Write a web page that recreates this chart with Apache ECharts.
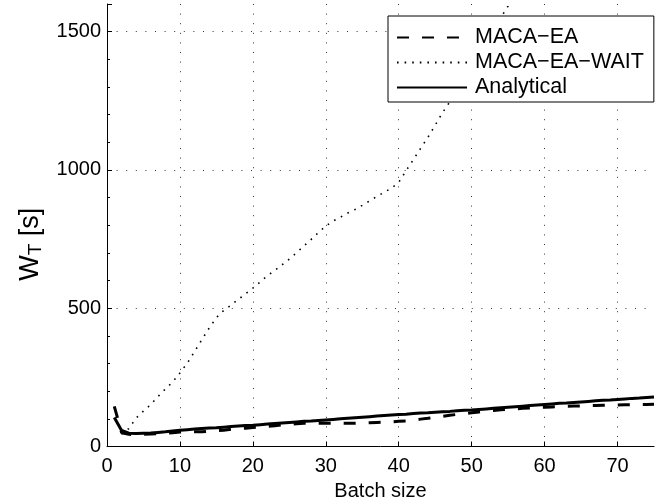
<!DOCTYPE html>
<html>
<head>
<meta charset="utf-8">
<script src="https://cdn.jsdelivr.net/npm/echarts@6/dist/echarts.min.js"></script>
<style>
  html, body { margin: 0; padding: 0; background: #fff; }
  #chart { width: 662px; height: 502px; }
</style>
</head>
<body>
<div id="chart"></div>
<script>
// Batch sizes used for the MACA-EA and analytical curves
const batchSize = [1,2,3,4,5,6,7,8,9,10,11,12,13,14,15,16,17,18,19,20,21,22,23,24,25,26,27,28,29,30,
  31,32,33,34,35,36,37,38,39,40,41,42,43,44,45,46,47,48,49,50,51,52,53,54,55,56,57,58,59,60,
  61,62,63,64,65,66,67,68,69,70,71,72,73,74,75];

// Mean waiting time W_T [s], simulated MACA-EA
const macaEA = [145,50,44,43,44,45,46,48,50,52,53,53,53,55,57,59,62,64,66,69,71,73,75,78,80,82,84,84,84,84,
  84,84,84,84,85,86,87,88,89,91,92,95,99,102,106,109,113,116,119,122,125,128,130,133,135,136,138,139,141,142,
  143,144,145,146,147,148,148,149,150,150,151,151,152,152,153];

// Analytical model
const analytical = [105,58,48,47,48,49,51,53,56,59,61,63,65,67,68,70,72,74,76,77,79,81,83,85,87,89,91,92,94,96,
  98,100,102,104,106,108,110,112,114,116,117,119,121,122,124,126,127,129,131,132,134,136,138,140,142,144,146,148,150,152,
  154,156,157,159,161,163,165,167,168,170,172,174,175,177,179];

// MACA-EA-WAIT (runs off the top of the plot past batch size 55)
const waitBatchSize = [2,3,4,5,6,7,8,9,10,11,12,13,14,15,16,17,18,19,20,21,22,23,24,25,26,27,28,29,30,
  31,32,33,34,35,36,37,38,39,40,41,42,43,44,45,46,47,48,49,50,51,52,53,54,55,56];
const macaEAWait = [45,65,103,128,152,181,208,233,266,301,343,386,428,466,492,511,532,552,573,595,618,636,657,678,701,725,749,774,797,
  815,829,844,857,872,888,904,919,934,955,997,1037,1078,1118,1162,1207,1246,1290,1333,1376,1419,1462,1506,1551,1593,1636];

const xTicks = [0,10,20,30,40,50,60,70];
const yTicks = [0,500,1000,1500];

const FONT = 'Liberation Sans, Arial, Helvetica, sans-serif';

function pairs(xs, ys) { return xs.map((x, i) => [x, ys[i]]); }

const chart = echarts.init(document.getElementById('chart'), null, { renderer: 'canvas' });

const gridLine = { show: true, showMinLine: false, showMaxLine: false,
  lineStyle: { color: '#333', width: 1, type: [1, 8.6] } };

chart.setOption({
  animation: false,
  backgroundColor: '#fff',
  textStyle: { fontFamily: FONT },
  grid: { left: 107, right: 8, top: 4, bottom: 55.5, containLabel: false, outerBoundsMode: 'none' },
  legend: {
    orient: 'vertical',
    left: 388, top: 16,
    itemWidth: 70, itemHeight: 14, itemGap: 0,
    padding: [9, 10, 2, 8],
    backgroundColor: '#fff',
    borderColor: '#000', borderWidth: 1, borderRadius: 0,
    itemStyle: { opacity: 0 },
    textStyle: { fontFamily: FONT, fontSize: 21.5, color: '#000', lineHeight: 25, padding: [0, 0, 0, 3] },
    data: ['MACA\u2212EA', 'MACA\u2212EA\u2212WAIT', 'Analytical']
  },
  xAxis: {
    type: 'value', min: 0, max: 75, interval: 10,
    name: 'Batch size', nameLocation: 'middle', nameGap: 35,
    nameTextStyle: { fontFamily: FONT, fontSize: 20, color: '#000' },
    axisLine: { show: true, onZero: false, lineStyle: { color: '#000', width: 1 } },
    axisTick: { show: true, inside: true, length: 5, lineStyle: { color: '#000' } },
    axisLabel: { fontFamily: FONT, fontSize: 20, color: '#000', margin: 10, showMaxLabel: false,
      formatter: v => xTicks.includes(v) ? String(v) : '' },
    splitLine: gridLine
  },
  yAxis: {
    type: 'value', min: 0, max: 1600, interval: 500,
    name: 'W{sub|T} [s]', nameLocation: 'middle', nameGap: 47,
    nameTextStyle: { fontFamily: FONT, fontSize: 27, color: '#000', padding: [0, 38, 0, 0],
      rich: { sub: { fontFamily: FONT, fontSize: 19, color: '#000', padding: [12, 0, 0, 0] } } },
    axisLine: { show: true, lineStyle: { color: '#000', width: 1 } },
    axisTick: { show: true, inside: true, length: 5, lineStyle: { color: '#000' } },
    minorTick: { show: true, splitNumber: 5, length: 3, lineStyle: { color: '#000' } },
    axisLabel: { fontFamily: FONT, fontSize: 20, color: '#000', margin: 6, showMaxLabel: false,
      formatter: v => yTicks.includes(v) ? String(v) : '' },
    splitLine: gridLine
  },
  series: [
    {
      name: 'MACA\u2212EA', type: 'line', data: pairs(batchSize, macaEA),
      showSymbol: false, symbol: 'none', clip: true, z: 3,
      lineStyle: { color: '#000', width: 3, type: [12, 13] }
    },
    {
      name: 'MACA\u2212EA\u2212WAIT', type: 'line', data: pairs(waitBatchSize, macaEAWait),
      showSymbol: false, symbol: 'none', clip: true, z: 2,
      lineStyle: { color: '#000', width: 1.6, type: [1.6, 6] }
    },
    {
      name: 'Analytical', type: 'line', data: pairs(batchSize, analytical),
      showSymbol: false, symbol: 'none', clip: true, z: 4,
      lineStyle: { color: '#000', width: 3, type: 'solid' }
    }
  ]
});
</script>
</body>
</html>
